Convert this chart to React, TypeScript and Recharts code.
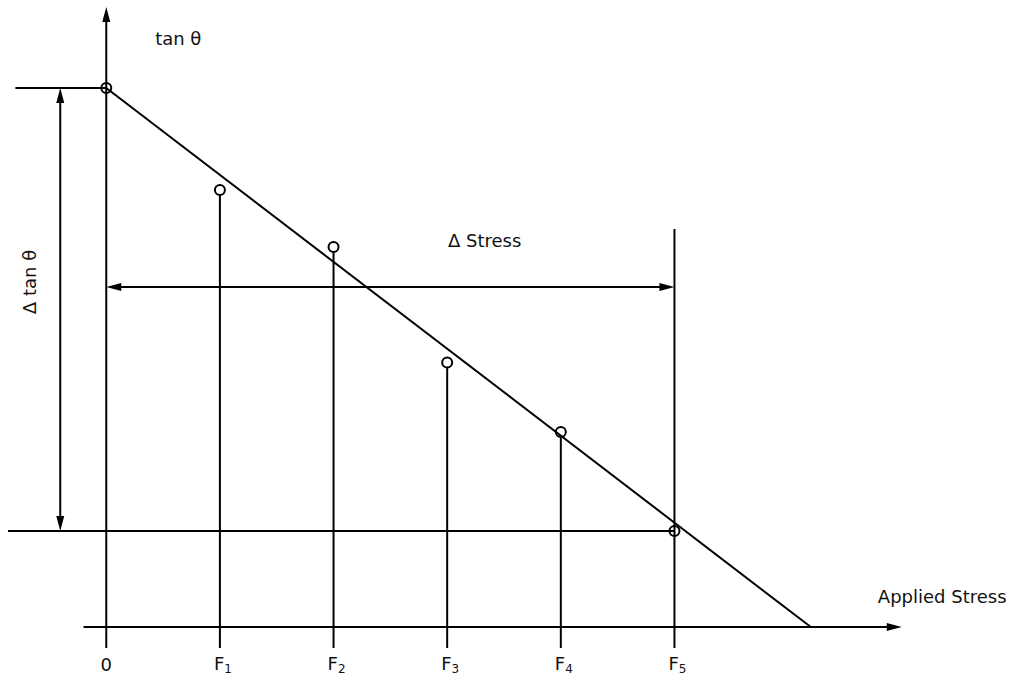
import React from 'react';
import {
  ComposedChart,
  XAxis,
  YAxis,
  Line,
  Scatter,
  ReferenceLine,
  ReferenceDot,
} from 'recharts';

// ---- data ----
const categories = ['0', 'F1', 'F2', 'F3', 'F4', 'F5'];
const stressPositions = [0, 1, 2, 3, 4, 5];
const tanTheta = [5.39, 4.37, 3.8, 2.645, 1.95, 0.96];
const fitStress = [0, 6.2];
const fitTan = [5.39, 0];
const deltaStressLevel = 3.4;
const f5LineTop = 3.98;

const AXIS_BOTTOM = -0.21;
const X_DOMAIN: [number, number] = [-0.9, 7.9];
const Y_DOMAIN: [number, number] = [AXIS_BOTTOM, 6.2];

const points = stressPositions.map((x, i) => ({ x, y: tanTheta[i] }));
const fitData = fitStress.map((x, i) => ({ x, y: fitTan[i] }));

const INK = '#000';
const FONT = '"DejaVu Sans", Verdana, sans-serif';

// shape for a line with optional arrow heads
const arrowShape =
  (startHead: boolean, endHead: boolean, trimStart = 0) =>
  (p: any) => {
    const { x1, y1, x2, y2 } = p;
    const dx = x2 - x1;
    const dy = y2 - y1;
    const len = Math.hypot(dx, dy) || 1;
    const ux = dx / len;
    const uy = dy / len;
    const L = 15;
    const W = 4;
    const head = (tx: number, ty: number, dx0: number, dy0: number) => {
      const bx = tx - dx0 * L;
      const by = ty - dy0 * L;
      return `${tx},${ty} ${bx - dy0 * W},${by + dx0 * W} ${bx + dy0 * W},${by - dx0 * W}`;
    };
    const sx = x1 + ux * (startHead ? L - 2 : trimStart);
    const sy = y1 + uy * (startHead ? L - 2 : trimStart);
    const ex = x2 - ux * (endHead ? L - 2 : 0);
    const ey = y2 - uy * (endHead ? L - 2 : 0);
    return (
      <g>
        <line x1={sx} y1={sy} x2={ex} y2={ey} stroke={INK} strokeWidth={2} />
        {startHead && <polygon points={head(x1, y1, -ux, -uy)} fill={INK} />}
        {endHead && <polygon points={head(x2, y2, ux, uy)} fill={INK} />}
      </g>
    );
  };

const textShape =
  (txt: string, anchor: 'start' | 'middle' | 'end' = 'start', rotate = 0) =>
  (p: any) => {
    const { cx, cy } = p;
    return (
      <text
        x={cx}
        y={cy}
        textAnchor={anchor}
        fontFamily={FONT}
        fontSize={18}
        fill="#111"
        transform={rotate ? `rotate(${rotate} ${cx} ${cy})` : undefined}
        dominantBaseline={rotate ? 'central' : undefined}
      >
        {txt}
      </text>
    );
  };

const Tick = (props: any) => {
  const { x, y, payload } = props;
  const label = categories[payload.value] ?? '';
  if (label.length === 1) {
    return (
      <text x={x} y={y + 23} textAnchor="middle" fontFamily={FONT} fontSize={18} fill="#111">
        {label}
      </text>
    );
  }
  return (
    <text x={x - 6} y={y + 22} textAnchor="start" fontFamily={FONT} fontSize={18} fill="#111">
      {label[0]}
      <tspan fontSize={12} dy={3}>
        {label.slice(1)}
      </tspan>
    </text>
  );
};

const Circle = (p: any) => (
  <circle cx={p.cx} cy={p.cy} r={5} fill="none" stroke={INK} strokeWidth={2} />
);

export default function App() {
  return (
    <div style={{ position: 'absolute', left: 0, top: 0, background: '#fff' }}>
      <ComposedChart
        width={1012}
        height={677}
        margin={{ top: 7, right: 8, bottom: 0, left: 4 }}
      >
        <XAxis
          type="number"
          dataKey="x"
          domain={X_DOMAIN}
          ticks={stressPositions}
          allowDataOverflow
          axisLine={false}
          tickLine={false}
          tickSize={0}
          tickMargin={0}
          height={29}
          tick={<Tick />}
          interval={0}
        />
        <YAxis type="number" dataKey="y" domain={Y_DOMAIN} allowDataOverflow hide />

        {/* x axis with arrow */}
        <ReferenceLine
          segment={[
            { x: -0.2, y: 0 },
            { x: 7.0, y: 0 },
          ]}
          ifOverflow="visible"
          shape={arrowShape(false, true)}
        />
        {/* y axis with arrow */}
        <ReferenceLine
          segment={[
            { x: 0, y: AXIS_BOTTOM },
            { x: 0, y: 6.2 },
          ]}
          ifOverflow="visible"
          shape={arrowShape(false, true)}
        />

        {/* stems from points to below the axis */}
        {points.slice(1, 5).map((pt) => (
          <ReferenceLine
            key={`stem-${pt.x}`}
            segment={[
              { x: pt.x, y: pt.y },
              { x: pt.x, y: AXIS_BOTTOM },
            ]}
            ifOverflow="visible"
            shape={arrowShape(false, false, 5)}
          />
        ))}
        {/* F5 vertical line */}
        <ReferenceLine
          segment={[
            { x: 5, y: f5LineTop },
            { x: 5, y: AXIS_BOTTOM },
          ]}
          ifOverflow="visible"
          shape={arrowShape(false, false)}
        />

        {/* top horizontal level */}
        <ReferenceLine
          segment={[
            { x: -0.8, y: tanTheta[0] },
            { x: 0, y: tanTheta[0] },
          ]}
          ifOverflow="visible"
          shape={arrowShape(false, false)}
        />
        {/* bottom horizontal level */}
        <ReferenceLine
          segment={[
            { x: -0.865, y: tanTheta[5] },
            { x: 5, y: tanTheta[5] },
          ]}
          ifOverflow="visible"
          shape={arrowShape(false, false)}
        />
        {/* delta tan theta double arrow */}
        <ReferenceLine
          segment={[
            { x: -0.405, y: tanTheta[0] },
            { x: -0.405, y: tanTheta[5] },
          ]}
          ifOverflow="visible"
          shape={arrowShape(true, true)}
        />
        {/* delta stress double arrow */}
        <ReferenceLine
          segment={[
            { x: 0, y: deltaStressLevel },
            { x: 5, y: deltaStressLevel },
          ]}
          ifOverflow="visible"
          shape={arrowShape(true, true)}
        />

        <Line
          data={fitData}
          dataKey="y"
          type="linear"
          stroke={INK}
          strokeWidth={2}
          dot={false}
          activeDot={false}
          isAnimationActive={false}
        />
        <Scatter data={points} dataKey="y" shape={<Circle />} isAnimationActive={false} />

        {/* text labels */}
        <ReferenceDot x={0.43} y={5.82} ifOverflow="visible" shape={textShape('tan θ')} />
        <ReferenceDot x={3.33} y={3.8} ifOverflow="visible" shape={textShape('Δ Stress', 'middle')} />
        <ReferenceDot x={6.79} y={0.24} ifOverflow="visible" shape={textShape('Applied Stress')} />
        <ReferenceDot
          x={-0.68}
          y={3.45}
          ifOverflow="visible"
          shape={textShape('Δ tan θ', 'middle', -90)}
        />
      </ComposedChart>
    </div>
  );
}
